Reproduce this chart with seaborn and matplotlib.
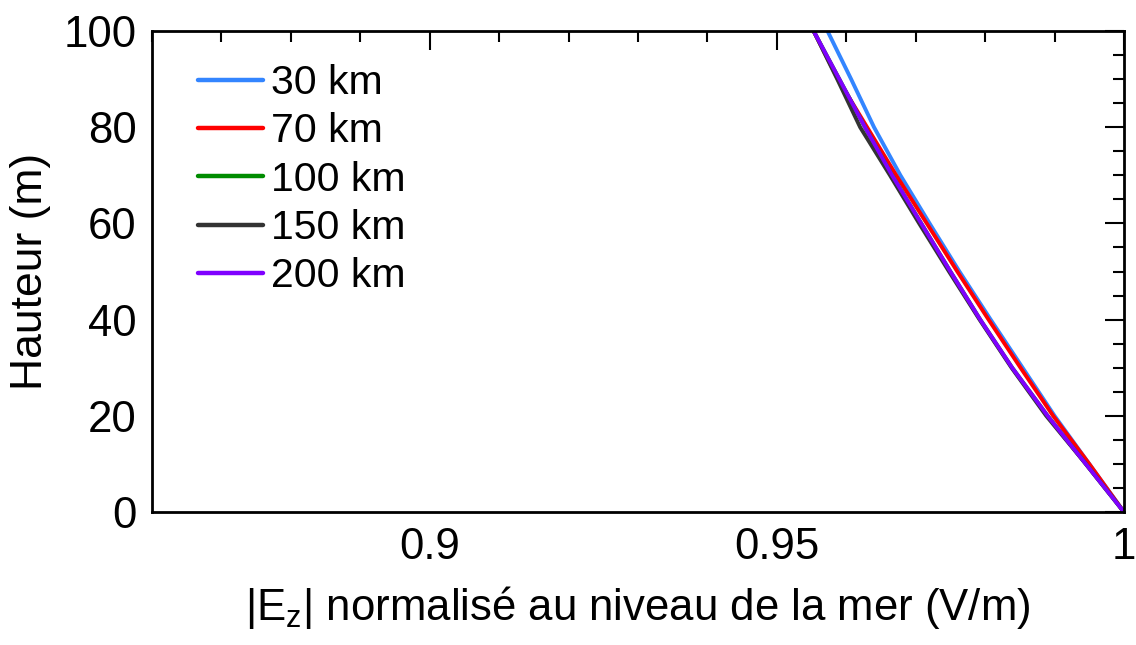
import matplotlib
matplotlib.use("Agg")
import matplotlib.pyplot as plt
import seaborn as sns
import pandas as pd
from matplotlib.ticker import MultipleLocator

sns.set_theme(style="white")
plt.rcParams['font.family'] = ['Liberation Sans', 'DejaVu Sans']
plt.rcParams['mathtext.fontset'] = 'custom'
plt.rcParams['mathtext.rm'] = 'Liberation Sans'
plt.rcParams['text.color'] = 'black'
plt.rcParams['axes.labelcolor'] = 'black'

heights = [0, 10, 20, 30, 40, 50, 60, 70, 80, 90, 100]
ez_30km = [1.0, 0.9950, 0.9900, 0.9854, 0.9808, 0.9763, 0.9720, 0.9678, 0.9640, 0.9607, 0.9573]
ez_70km = [1.0, 0.9950, 0.9898, 0.9851, 0.9805, 0.9760, 0.9716, 0.9672, 0.9630, 0.9588, 0.9553]
ez_100km = [1.0, 0.9945, 0.9890, 0.9839, 0.9793, 0.9750, 0.9708, 0.9666, 0.9627, 0.9590, 0.9553]
ez_150km = [1.0, 0.9945, 0.9888, 0.9838, 0.9792, 0.9748, 0.9705, 0.9663, 0.9620, 0.9587, 0.9553]
ez_200km = [1.0, 0.9945, 0.9890, 0.9839, 0.9793, 0.9750, 0.9708, 0.9666, 0.9627, 0.9590, 0.9553]

labels = ["30 km", "70 km", "100 km", "150 km", "200 km"]
series = [ez_30km, ez_70km, ez_100km, ez_150km, ez_200km]
colors = ["#3385ff", "#ff0000", "#008c00", "#333333", "#7f00ff"]

rows = []
for lab, vals in zip(labels, series):
    for h, v in zip(heights, vals):
        rows.append({"dist": lab, "h": h, "ez": v})
df = pd.DataFrame(rows)

fig = plt.figure(figsize=(11.36, 6.45), dpi=100)
ax = fig.add_axes([0.1338, 0.2062, 0.8556, 0.7457])

sns.lineplot(data=df, x="ez", y="h", hue="dist", hue_order=labels,
             palette=dict(zip(labels, colors)), orient="y", sort=False,
             estimator=None, linewidth=2.8, ax=ax)

ax.set_xlim(0.86, 1.0)
ax.set_ylim(0, 100)
ax.xaxis.set_major_locator(MultipleLocator(0.05))
ax.xaxis.set_minor_locator(MultipleLocator(0.01))
ax.yaxis.set_major_locator(MultipleLocator(20))
ax.yaxis.set_minor_locator(MultipleLocator(5))
ax.set_xticks([0.9, 0.95, 1.0])
ax.set_xticklabels(["0.9", "0.95", "1"])
ax.tick_params(which="both", direction="in", top=True, right=True, width=1.5,
               color="black", labelsize=31.5, labelcolor="black")
ax.tick_params(which="major", length=14, pad=11)
ax.tick_params(which="minor", length=8)
for s in ax.spines.values():
    s.set_linewidth(2)
    s.set_color("black")

ax.set_xlabel(r"|E$_\mathregular{z}$| normalisé au niveau de la mer (V/m)", fontsize=31.5, labelpad=11)
ax.set_ylabel("Hauteur (m)", fontsize=32, labelpad=9)

handles, labs = ax.get_legend_handles_labels()
leg = ax.legend(handles, labs, loc="upper left", bbox_to_anchor=(0.03, 0.965),
                frameon=False, fontsize=29.5, handlelength=1.6, handletextpad=0.2,
                labelspacing=0.25, borderaxespad=0)
for l in leg.get_lines():
    l.set_linewidth(3.2)

fig.savefig("out.png", dpi=100)
